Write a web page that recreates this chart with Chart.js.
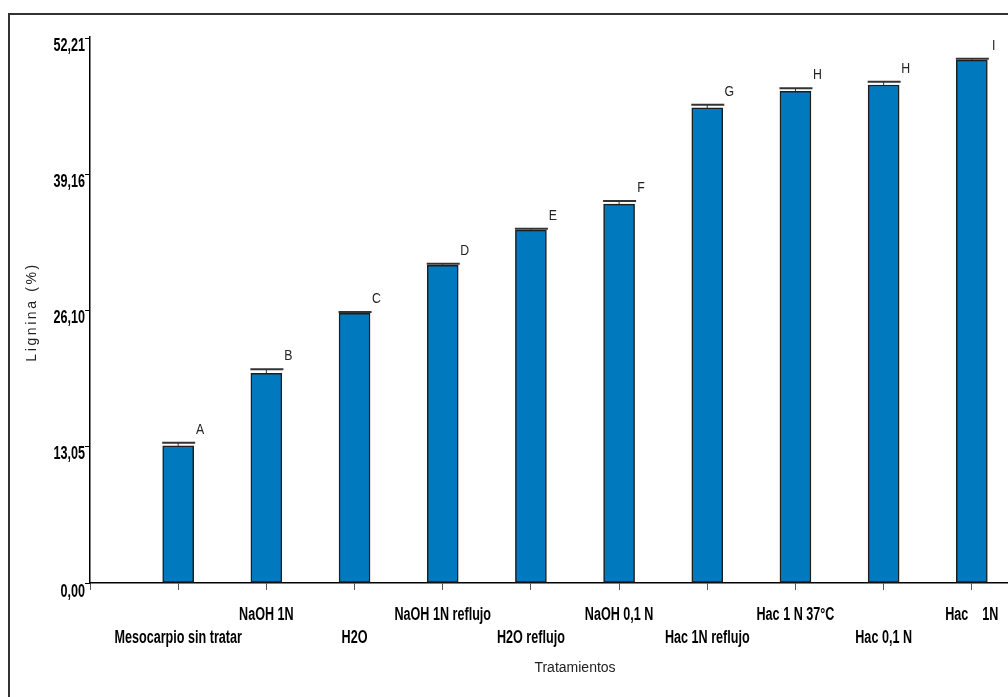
<!DOCTYPE html>
<html>
<head>
<meta charset="utf-8">
<script src="https://cdn.jsdelivr.net/npm/chart.js@4/dist/chart.umd.min.js"></script>
<style>
  html, body { margin: 0; padding: 0; background: #fff; overflow: hidden; }
  #frame { position: absolute; left: 8px; top: 13px; width: 1200px; height: 800px; border: 2px solid #333; }
  #wrap { position: absolute; left: 0; top: 0; width: 1100px; height: 697px; }
</style>
</head>
<body>
<div id="frame"></div>
<div id="wrap"><canvas id="chart" width="1100" height="697"></canvas></div>
<script>
// tratamientos y contenido de lignina (%)
const categorias = ['Mesocarpio sin tratar', 'NaOH 1N', 'H2O', 'NaOH 1N reflujo', 'H2O reflujo',
  'NaOH 0,1 N', 'Hac 1N reflujo', 'Hac 1 N 37°C', 'Hac 0,1 N', 'Hac    1N'];
const lignina = [13.15, 20.11, 25.86, 30.46, 33.84, 36.33, 45.56, 47.15, 47.76, 50.15];
const errores = [0.3, 0.4, 0.13, 0.15, 0.13, 0.3, 0.3, 0.3, 0.3, 0.13];
const letras = ['A', 'B', 'C', 'D', 'E', 'F', 'G', 'H', 'H', 'I'];
const yTicks = [0, 13.05, 26.10, 39.16, 52.21];

const sans = "'Liberation Sans', Arial, sans-serif";

// huecos vacios a ambos lados del eje de categorias
const labels = [''].concat(categorias, ['']);
const datos = [null].concat(lignina, [null]);

// texto comprimido a lo ancho (estilo Arial Narrow)
function narrowText(ctx, text, x, y, squeeze) {
  const w = ctx.measureText(text).width;
  ctx.fillText(text, x, y, w * squeeze);
}

const extras = {
  id: 'extras',
  afterDatasetsDraw(chart) {
    const ctx = chart.ctx;
    const y = chart.scales.y;
    const meta = chart.getDatasetMeta(0);
    ctx.save();
    lignina.forEach((v, k) => {
      const bar = meta.data[k + 1];
      const yCap = y.getPixelForValue(v + errores[k]);
      ctx.strokeStyle = '#333';
      ctx.lineWidth = 1;
      ctx.beginPath();
      ctx.moveTo(bar.x, bar.y);
      ctx.lineTo(bar.x, yCap);
      ctx.stroke();
      ctx.lineWidth = 2;
      ctx.beginPath();
      ctx.moveTo(bar.x - 16, yCap);
      ctx.lineTo(bar.x + 17, yCap);
      ctx.stroke();
      ctx.fillStyle = '#222';
      ctx.font = '15px ' + sans;
      ctx.textAlign = 'center';
      ctx.textBaseline = 'middle';
      narrowText(ctx, letras[k], bar.x + 22, yCap - 13, 0.82);
    });
    ctx.restore();
  },
  afterDraw(chart) {
    const ctx = chart.ctx;
    const a = chart.chartArea;
    const xs = chart.scales.x;
    const ys = chart.scales.y;
    ctx.save();
    ctx.fillStyle = '#000';
    ctx.font = 'bold 18px ' + sans;
    ctx.textBaseline = 'middle';
    // categorias alternadas en dos filas
    ctx.textAlign = 'center';
    categorias.forEach((c, k) => {
      const px = xs.getPixelForValue(k + 1);
      narrowText(ctx, c, px, k % 2 === 0 ? 638 : 615, 0.7);
    });
    ctx.textAlign = 'right';
    yTicks.forEach(v => {
      const py = ys.getPixelForValue(v);
      narrowText(ctx, v.toFixed(2).replace('.', ','), 85, py + 7 + (v === 0 ? 2 : 0), 0.7);
    });
    ctx.fillStyle = '#222';
    ctx.font = '14px ' + sans;
    ctx.textAlign = 'center';
    ctx.fillText('Tratamientos', (a.left + a.right) / 2, 668);
    ctx.translate(32, (a.top + a.bottom) / 2 + 2);
    ctx.rotate(-Math.PI / 2);
    ctx.letterSpacing = '2.6px';
    ctx.fillText('Lignina (%)', 0, 0);
    ctx.restore();
  }
};

new Chart(document.getElementById('chart'), {
  type: 'bar',
  data: {
    labels: labels,
    datasets: [{
      data: datos,
      backgroundColor: '#0079BF',
      borderColor: '#1e1e1e',
      borderWidth: 1.5,
      borderSkipped: false,
      barThickness: 31
    }]
  },
  options: {
    responsive: false,
    animation: false,
    layout: { padding: { top: 37, right: 40, left: 0, bottom: 0 } },
    plugins: { legend: { display: false }, tooltip: { enabled: false } },
    scales: {
      x: {
        offset: false,
        afterFit(scale) { scale.height = 114; },
        grid: { offset: false, drawOnChartArea: false, drawTicks: true, tickLength: 7, color: '#555', lineWidth: 1 },
        border: { display: true, color: '#000', width: 1.5 },
        ticks: { display: false, autoSkip: false }
      },
      y: {
        min: 0,
        max: 52.36,
        afterFit(scale) { scale.width = 90; },
        afterBuildTicks(scale) { scale.ticks = yTicks.map(v => ({ value: v })); },
        grid: { drawOnChartArea: false, drawTicks: true, tickLength: 5, color: '#000', lineWidth: 1 },
        border: { display: true, color: '#000', width: 1.5 },
        ticks: { display: false }
      }
    }
  },
  plugins: [extras]
});
</script>
</body>
</html>
